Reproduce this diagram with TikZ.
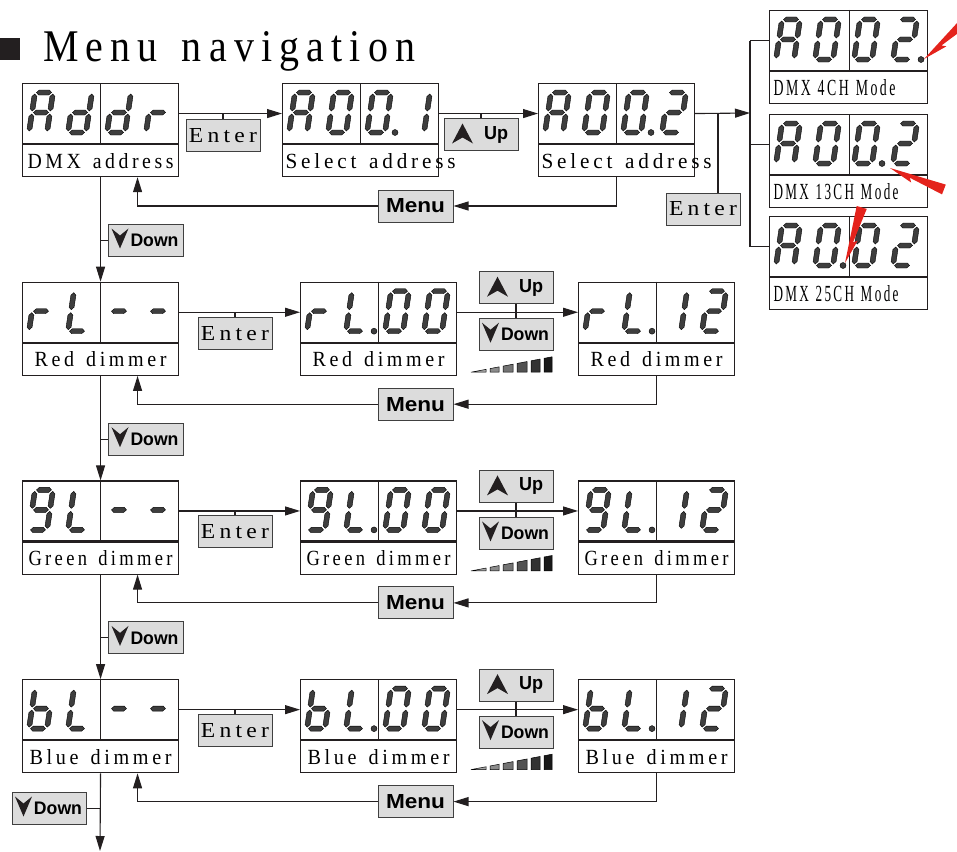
\documentclass[tikz,border=0pt]{standalone}
\usepackage{fontspec}
\usepackage{graphicx}
\usetikzlibrary{arrows.meta,calc}
\newfontfamily\lblfont{Liberation Serif}[LetterSpace=18]
\newfontfamily\btnfont{Liberation Sans}
\definecolor{inkline}{RGB}{35,31,32}
\definecolor{keygray}{RGB}{220,220,220}
\definecolor{segfill}{RGB}{62,62,62}
\definecolor{markred}{RGB}{228,35,28}

% seven segment pieces (local units, y downwards)
\newcommand{\segH}[3]{\filldraw[segpart] ({#1+1.5},{#3}) -- ({#1+4},{#3-2.5}) -- ({#2-4},{#3-2.5})
    -- ({#2-1.5},{#3}) -- ({#2-4},{#3+2.5}) -- ({#1+4},{#3+2.5}) -- cycle;}
\newcommand{\segV}[3]{\filldraw[segpart] ({#1},{#2+1.5}) -- ({#1+2.5},{#2+4}) -- ({#1+2.5},{#3-4})
    -- ({#1},{#3-1.5}) -- ({#1-2.5},{#3-4}) -- ({#1-2.5},{#2+4}) -- cycle;}
\newcommand{\sga}{\segH{0}{18}{0}}
\newcommand{\sgb}{\segV{18}{0}{20}}
\newcommand{\sgc}{\segV{18}{20}{40}}
\newcommand{\sgd}{\segH{0}{18}{40}}
\newcommand{\sge}{\segV{0}{20}{40}}
\newcommand{\sgf}{\segV{0}{0}{20}}
\newcommand{\sgg}{\segH{0}{18}{20}}
% characters
\def\chrA{a,b,c,e,f,g}
\def\chrd{b,c,d,e,g}
\def\chrr{e,g}
\def\chrzero{a,b,c,d,e,f}
\def\chrone{b,c}
\def\chrtwo{a,b,d,e,g}
\def\chrL{d,e,f}
\def\chrdash{g}
\def\chrnine{a,b,c,d,f,g}
\def\chrb{c,d,e,f,g}
\newcommand{\segdigit}[3]{%
  \begin{scope}[shift={(#1,#2)},xslant=0.15]
    \edef\seglist{\csname chr#3\endcsname}%
    \foreach \s in \seglist {\csname sg\s\endcsname}
  \end{scope}}
\newcommand{\fourdigits}[5]{%
  \begin{scope}[shift={(#1.north west)}]
    \segdigit{13}{9.5}{#2}\segdigit{52}{9.5}{#3}%
    \segdigit{91}{9.5}{#4}\segdigit{130}{9.5}{#5}
  \end{scope}}
\newcommand{\dpoint}[2]{\fill[segpart] ($(#1.north west)+({39*#2+35},49.5)$) circle (3pt);}
% texts
\newcommand{\lbltxt}[2]{\resizebox{#1}{15pt}{\lblfont\spaceskip=0.6em #2}}
\newcommand{\btntxt}[3]{\resizebox{#1}{#2}{\btnfont\bfseries #3}}
% key symbols
\newcommand{\upmark}[1]{\fill[inkline] ($(#1.center)+(-18.5,-11)$) -- ($(#1.center)+(-8,9)$)
    -- ($(#1.center)+(-18.5,3)$) -- ($(#1.center)+(-29,9)$) -- cycle;}
\newcommand{\downmark}[1]{\fill[inkline] ($(#1.center)+(-25.5,8)$) -- ($(#1.center)+(-17,-12)$)
    -- ($(#1.center)+(-25.5,-5)$) -- ($(#1.center)+(-34,-12)$) -- cycle;}
\newcommand{\redmark}[3]{%
  \begin{scope}[shift={(#1,#2)},rotate=#3]
    \fill[markred] (0,0) -- (25,6) -- (22,2) -- (58,6) -- (58,-4.5) -- cycle;
  \end{scope}}

\begin{document}
\begin{tikzpicture}[x=1pt,y=-1pt,
    boxline/.style={draw=inkline, line width=1.1pt},
    flow/.style={boxline, -{Triangle[length=15pt,width=9pt]}},
    disp/.style={boxline, anchor=north west, minimum width=156pt, minimum height=60pt, inner sep=0pt},
    capbox/.style={boxline, anchor=north, minimum width=156pt, minimum height=32pt, inner sep=0pt},
    btn/.style={draw=black!75, line width=1pt, fill=keygray, minimum width=74pt, minimum height=32pt, inner sep=0pt},
    segpart/.style={fill=segfill, draw=black, line width=0.4pt}]
    \useasboundingbox (0,0) rectangle (957,851);

    % Title
    \fill[inkline] (0,38) rectangle (20,60);
    \node[anchor=base west, inner sep=0pt] (title) at (43,62) {\resizebox{372pt}{30pt}{\lblfont\spaceskip=0.6em Menu navigation}};

    % Address row
    \node[disp] (L0) at (22,83) {};
    \node[capbox] (cL0) at (L0.south) {\lbltxt{146pt}{DMX address}};
    \node[disp] (M0) at (282,83) {};
    \node[capbox] (cM0) at (M0.south) {\makebox[150pt][l]{\lbltxt{170pt}{Select address}}};
    \node[disp] (R0) at (538,83) {};
    \node[capbox] (cR0) at (R0.south) {\makebox[150pt][l]{\lbltxt{170pt}{Select address}}};
    \foreach \p in {L0,M0,R0} {\draw[boxline] (\p.north) -- (\p.south);}
    \fourdigits{L0}{A}{d}{d}{r}
    \fourdigits{M0}{A}{zero}{zero}{one}\dpoint{M0}{2}
    \fourdigits{R0}{A}{zero}{zero}{two}\dpoint{R0}{2}

    \node[btn] (E0) at (223,135.5) {\resizebox{68pt}{14pt}{\lblfont Enter}};
    \node[btn] (U0) at (481,134.5) {\hspace*{30pt}\btntxt{24pt}{13pt}{Up}};
    \upmark{U0}
    \node[btn, minimum width=75pt] (N0) at (415.5,206) {\btntxt{59pt}{14pt}{Menu}};
    \node[btn, minimum width=75pt] (D0) at (145.5,240.5) {\hspace*{18pt}\btntxt{48pt}{12.5pt}{Down}};
    \downmark{D0}

    \draw[flow] (L0.east) -- (M0.west);
    \draw[boxline] (E0.north) -- (E0.north |- L0.east);
    \draw[flow] (M0.east) -- (R0.west);
    \draw[boxline] (U0.north) -- (U0.north |- M0.east);
    \draw[flow] (cR0.south) |- (N0.east);
    \draw[flow] (N0.west) -| ([xshift=37pt]cL0.south);
    \draw[boxline] (D0.west) -- (D0.west -| cL0.south);

    % DMX modes
    \foreach \m/\y/\txt/\tw/\k in {A/10/DMX 4CH Mode/122/3, B/114/DMX 13CH Mode/125/2, C/216/DMX 25CH Mode/125/1} {
        \node[disp, minimum width=158pt] (mode\m) at (769,\y) {};
        \node[capbox, minimum width=158pt] (cmode\m) at (mode\m.south) {\makebox[150pt][l]{\resizebox{\tw pt}{16pt}{\lblfont\spaceskip=0.5em \txt}}};
        \draw[boxline] ([xshift=1pt]mode\m.north) -- ([xshift=1pt]mode\m.south);
        \fourdigits{mode\m}{A}{zero}{zero}{two}\dpoint{mode\m}{\k}
    }
    \coordinate (bus) at (750,113);
    \draw[flow] (R0.east) -- (bus);
    \draw[boxline] (bus |- modeA.west) -- (bus |- modeC.west);
    \foreach \m in {A,B,C} {\draw[boxline] (bus |- mode\m.west) -- (mode\m.west);}
    \node[btn] (Emode) at (703,209) {\resizebox{68pt}{14pt}{\lblfont Enter}};
    \coordinate (entertap) at (718,113);
    \draw[boxline] (entertap) -- (entertap |- Emode.north);
    \redmark{924}{59}{43}
    \redmark{890}{168}{-21}
    \redmark{845}{263}{74}

    % Dimmer rows
    \foreach \row/\ch/\colname/\lw in {1/r/Red/132, 2/nine/Green/144, 3/b/Blue/142} {
        \pgfmathsetmacro\ytop{83+198.7*\row}
        \pgfmathtruncatemacro\prev{\row-1}
        \node[disp] (L\row) at (22,\ytop) {};
        \node[capbox] (cL\row) at (L\row.south) {\lbltxt{\lw pt}{\colname\ dimmer}};
        \node[disp] (M\row) at (300,\ytop) {};
        \node[capbox] (cM\row) at (M\row.south) {\lbltxt{\lw pt}{\colname\ dimmer}};
        \node[disp] (R\row) at (578,\ytop) {};
        \node[capbox] (cR\row) at (R\row.south) {\lbltxt{\lw pt}{\colname\ dimmer}};
        \foreach \p in {L,M,R} {\draw[boxline] (\p\row.north) -- (\p\row.south);}
        \fourdigits{L\row}{\ch}{L}{dash}{dash}
        \fourdigits{M\row}{\ch}{L}{zero}{zero}\dpoint{M\row}{1}
        \fourdigits{R\row}{\ch}{L}{one}{two}\dpoint{R\row}{1}

        \node[btn] (E\row) at (235,\ytop+51.5) {\resizebox{68pt}{14pt}{\lblfont Enter}};
        \node[btn] (U\row) at (516,\ytop+6) {\hspace*{30pt}\btntxt{24pt}{13pt}{Up}};
        \upmark{U\row}
        \node[btn] (V\row) at (516,\ytop+53) {\hspace*{18pt}\btntxt{48pt}{12.5pt}{Down}};
        \downmark{V\row}
        \node[btn, minimum width=75pt] (N\row) at (415.5,\ytop+122.5) {\btntxt{59pt}{14pt}{Menu}};
        % brightness ramp
        \foreach \xa/\xb/\shade in {471/486/35, 490/499/45, 503/513/55, 517/527/68, 531/540/80, 544/552/90} {
            \filldraw[draw=black, line width=0.5pt, fill=black!\shade] (\xa,\ytop+90.5) -- (\xa,{\ytop+90.5-(\xa-471)*0.19})
                -- (\xb,{\ytop+90.5-(\xb-471)*0.19}) -- (\xb,\ytop+90.5) -- cycle;
        }

        \draw[flow] (L\row.east) -- (M\row.west);
        \draw[boxline] (E\row.north) -- (E\row.north |- L\row.east);
        \draw[flow] (M\row.east) -- (R\row.west);
        \draw[boxline] (U\row.south) -- (V\row.north);
        \draw[flow] (cR\row.south) |- (N\row.east);
        \draw[flow] (N\row.west) -| ([xshift=37pt]cL\row.south);
        \draw[flow] (cL\prev.south) -- (L\row.north);
    }
    \node[btn, minimum width=75pt] (D1) at (145.5,439.2) {\hspace*{18pt}\btntxt{48pt}{12.5pt}{Down}};
    \downmark{D1}
    \draw[boxline] (D1.west) -- (D1.west -| cL1.south);
    \node[btn, minimum width=75pt] (D2) at (145.5,637.9) {\hspace*{18pt}\btntxt{48pt}{12.5pt}{Down}};
    \downmark{D2}
    \draw[boxline] (D2.west) -- (D2.west -| cL2.south);

    % way out
    \coordinate (exit) at (100,851);
    \draw[flow] (cL3.south) -- (exit);
    \node[btn] (D3) at (49,808.5) {\hspace*{18pt}\btntxt{48pt}{12.5pt}{Down}};
    \downmark{D3}
    \draw[boxline] (D3.east) -- (D3.east -| exit);
\end{tikzpicture}
\end{document}
